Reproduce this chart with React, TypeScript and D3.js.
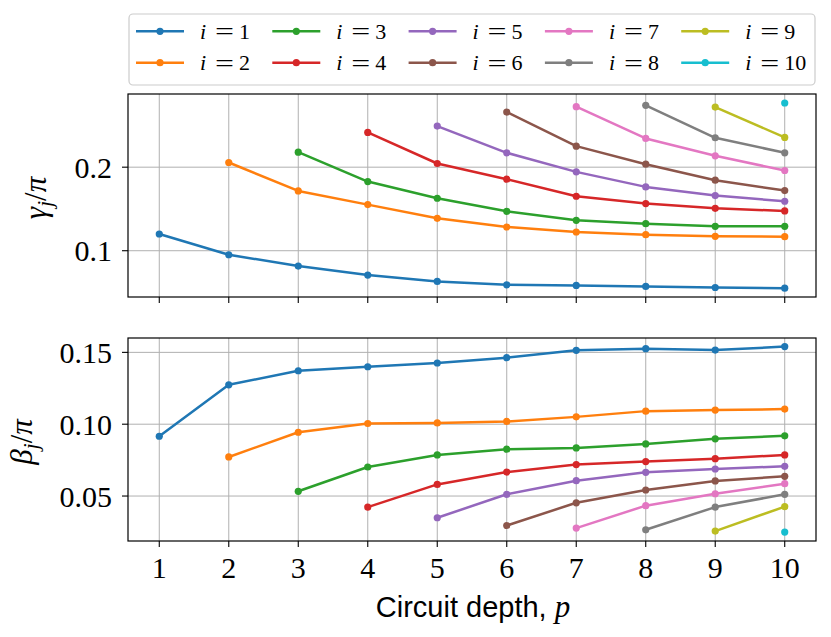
import React from "react";
import * as d3 from "d3";

const depths = [1, 2, 3, 4, 5, 6, 7, 8, 9, 10];
const seriesLabels = ["1", "2", "3", "4", "5", "6", "7", "8", "9", "10"];
const colors = ["#1f77b4", "#ff7f0e", "#2ca02c", "#d62728", "#9467bd", "#8c564b", "#e377c2", "#7f7f7f", "#bcbd22", "#17becf"];

// gamma_j/pi for layer i, starting at depth p = i
const gamma1 = [0.12, 0.0952, 0.0816, 0.0708, 0.0632, 0.0592, 0.0584, 0.0572, 0.056, 0.0552];
const gamma2 = [0.2056, 0.1716, 0.1552, 0.1388, 0.1284, 0.1224, 0.1192, 0.1172, 0.1168];
const gamma3 = [0.218, 0.1828, 0.1628, 0.1472, 0.1364, 0.1324, 0.1292, 0.1292];
const gamma4 = [0.2416, 0.2044, 0.1856, 0.1652, 0.1564, 0.1508, 0.1476];
const gamma5 = [0.2492, 0.2172, 0.1944, 0.1764, 0.166, 0.1592];
const gamma6 = [0.266, 0.2252, 0.2036, 0.1844, 0.172];
const gamma7 = [0.2724, 0.2344, 0.2136, 0.196];
const gamma8 = [0.274, 0.2352, 0.2172];
const gamma9 = [0.272, 0.2356];
const gamma10 = [0.2768];

// beta_j/pi for layer i, starting at depth p = i
const beta1 = [0.0916, 0.1274, 0.1372, 0.14, 0.1426, 0.1463, 0.1514, 0.1526, 0.1516, 0.154];
const beta2 = [0.0772, 0.0944, 0.1005, 0.1009, 0.1019, 0.1051, 0.1091, 0.1098, 0.1105];
const beta3 = [0.0533, 0.0702, 0.0786, 0.0826, 0.0835, 0.0863, 0.0898, 0.0919];
const beta4 = [0.0423, 0.0581, 0.0667, 0.0719, 0.074, 0.076, 0.0786];
const beta5 = [0.0349, 0.0512, 0.0607, 0.0665, 0.0688, 0.0707];
const beta6 = [0.0295, 0.0453, 0.0542, 0.0605, 0.0637];
const beta7 = [0.0277, 0.0433, 0.0516, 0.0586];
const beta8 = [0.0265, 0.0423, 0.0512];
const beta9 = [0.0256, 0.0426];
const beta10 = [0.0249];

const gammaSeries = [gamma1, gamma2, gamma3, gamma4, gamma5, gamma6, gamma7, gamma8, gamma9, gamma10];
const betaSeries = [beta1, beta2, beta3, beta4, beta5, beta6, beta7, beta8, beta9, beta10];

const gammaTicks = [0.1, 0.2];
const betaTicks = [0.05, 0.1, 0.15];

const W = 831;
const H = 637;
const left = 128;
const right = 816;
const top1 = 94, bot1 = 297;
const top2 = 338, bot2 = 541;

const serif = "'Liberation Serif', 'DejaVu Serif', serif";
const sans = "'Liberation Sans', 'DejaVu Sans', sans-serif";

const x = d3.scaleLinear().domain([0.55, 10.45]).range([left, right]);
const yG = d3.scaleLinear().domain([0.0446, 0.2876]).range([bot1, top1]);
const yB = d3.scaleLinear().domain([0.0187, 0.16]).range([bot2, top2]);

function Panel({ y, series, ticks, top, bot, fmt, showX }: any) {
  return (
    <g>
      {depths.map((d) => (
        <line key={"gx" + d} x1={x(d)} x2={x(d)} y1={top} y2={bot} stroke="#b0b0b0" strokeWidth={1} />
      ))}
      {ticks.map((t: number) => (
        <line key={"gy" + t} x1={left} x2={right} y1={y(t)} y2={y(t)} stroke="#b0b0b0" strokeWidth={1} />
      ))}
      {series.map((vals: number[], i: number) => {
        const pts = vals.map((v, k) => [x(depths[i + k]), y(v)] as [number, number]);
        const path = d3.line()(pts);
        return (
          <g key={"s" + i}>
            {pts.length > 1 && <path d={path || ""} fill="none" stroke={colors[i]} strokeWidth={2.5} strokeLinejoin="round" />}
            {pts.map((p, k) => (
              <circle key={k} cx={p[0]} cy={p[1]} r={3.6} fill={colors[i]} />
            ))}
          </g>
        );
      })}
      <rect x={left} y={top} width={right - left} height={bot - top} fill="none" stroke="#000" strokeWidth={1.2} />
      {ticks.map((t: number) => (
        <g key={"ty" + t}>
          <line x1={left - 6} x2={left} y1={y(t)} y2={y(t)} stroke="#000" strokeWidth={1.1} />
          <text x={left - 16} y={y(t)} dy="0.35em" textAnchor="end" fontFamily={serif} fontSize={30}>
            {fmt(t)}
          </text>
        </g>
      ))}
      {depths.map((d) => (
        <g key={"tx" + d}>
          <line x1={x(d)} x2={x(d)} y1={bot} y2={bot + 6} stroke="#000" strokeWidth={1.1} />
          {showX && (
            <text x={x(d)} y={578} textAnchor="middle" fontFamily={serif} fontSize={30}>
              {d}
            </text>
          )}
        </g>
      ))}
    </g>
  );
}

export default function App() {
  const colX0 = 160;
  const colDx = 136.3;
  const rowY = [31.3, 62.7];
  return (
    <svg width={W} height={H} style={{ position: "absolute", left: 0, top: 0, background: "#fff" }}>
      <rect x={0} y={0} width={W} height={H} fill="#fff" />
      <Panel y={yG} series={gammaSeries} ticks={gammaTicks} top={top1} bot={bot1} fmt={d3.format(".1f")} showX={false} />
      <Panel y={yB} series={betaSeries} ticks={betaTicks} top={top2} bot={bot2} fmt={d3.format(".2f")} showX={true} />

      <text transform={`translate(46,198) rotate(-90)`} textAnchor="middle" fontFamily={serif} fontSize={31} fontStyle="italic">
        γ<tspan fontSize={22} dy={6}>j</tspan><tspan dy={-6} fontStyle="normal">/</tspan>π
      </text>
      <text transform={`translate(32,442) rotate(-90)`} textAnchor="middle" fontFamily={serif} fontSize={31} fontStyle="italic">
        β<tspan fontSize={22} dy={6}>j</tspan><tspan dy={-6} fontStyle="normal">/</tspan>π
      </text>

      <text x={473} y={617} textAnchor="middle" fontFamily={sans} fontSize={29}>
        Circuit depth, <tspan fontFamily={serif} fontStyle="italic" fontSize={31}>p</tspan>
      </text>

      <rect x={129} y={14} width={686} height={71} rx={4} fill="#fff" fillOpacity={0.8} stroke="#cccccc" strokeWidth={1.2} />
      {seriesLabels.map((lab, i) => {
        const c = Math.floor(i / 2);
        const r = i % 2;
        const mx = colX0 + colDx * c;
        const my = rowY[r];
        return (
          <g key={"lg" + i}>
            <line x1={mx - 24} x2={mx + 24} y1={my} y2={my} stroke={colors[i]} strokeWidth={2.5} />
            <circle cx={mx} cy={my} r={3.6} fill={colors[i]} />
            <text x={mx + 40} y={my} dy="0.35em" fontFamily={serif} fontSize={22} fontStyle="italic">i</text>
            <text x={mx + 55} y={my} dy="0.33em" fontFamily={serif} fontSize={24} textLength={19} lengthAdjust="spacingAndGlyphs">=</text>
            <text x={mx + 79} y={my} dy="0.35em" fontFamily={serif} fontSize={22}>{lab}</text>
          </g>
        );
      })}
    </svg>
  );
}
